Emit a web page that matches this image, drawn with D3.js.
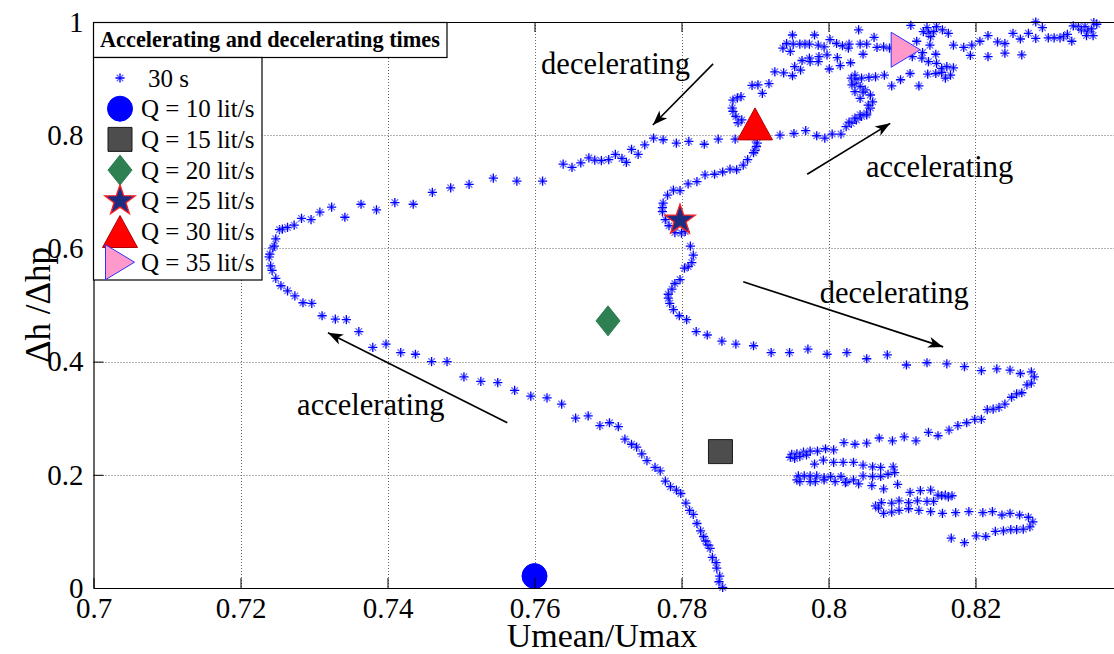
<!DOCTYPE html>
<html><head><meta charset="utf-8">
<script src="https://cdn.jsdelivr.net/npm/d3@7"></script>
<style>body{margin:0;background:#fff}svg{display:block}</style>
</head><body><svg id="c" width="1114" height="654"></svg>
<script>
// ---- data: 30 s time history of Umean/Umax (x) vs Δh/Δhp (y) ----
const traceAccelLow = [[0.7856,0.001],[0.7851,0.011],[0.7852,0.021],[0.7848,0.035],[0.7847,0.045],[0.7842,0.054],[0.7839,0.070],[0.7836,0.076],[0.7833,0.083],[0.7830,0.091],[0.7826,0.101],[0.7821,0.114],[0.7816,0.130],[0.7811,0.137],[0.7806,0.150],[0.7799,0.167],[0.7793,0.173],[0.7785,0.179],[0.7778,0.189],[0.7771,0.207],[0.7764,0.213],[0.7753,0.225],[0.7746,0.237],[0.7739,0.249],[0.7732,0.254],[0.7723,0.263],[0.7714,0.285],[0.7702,0.292],[0.7689,0.287],[0.7673,0.304],[0.7656,0.300],[0.7637,0.325],[0.7617,0.336],[0.7595,0.339],[0.7573,0.349],[0.7550,0.363],[0.7527,0.365],[0.7504,0.373],[0.7481,0.400],[0.7460,0.400],[0.7438,0.413],[0.7418,0.416],[0.7398,0.431],[0.7380,0.425],[0.7361,0.453],[0.7344,0.474],[0.7329,0.475],[0.7311,0.481],[0.7297,0.503],[0.7285,0.504],[0.7274,0.516],[0.7264,0.525],[0.7255,0.534],[0.7248,0.547],[0.7243,0.561],[0.7241,0.569],[0.7239,0.585],[0.7240,0.590],[0.7244,0.601],[0.7246,0.604],[0.7248,0.617],[0.7253,0.633],[0.7257,0.634],[0.7264,0.637],[0.7273,0.641],[0.7283,0.653],[0.7296,0.651],[0.7308,0.664],[0.7324,0.673],[0.7342,0.655],[0.7364,0.678],[0.7385,0.668],[0.7410,0.681],[0.7435,0.678],[0.7461,0.699],[0.7486,0.707],[0.7511,0.713],[0.7544,0.724],[0.7576,0.719],[0.7611,0.719],[0.7639,0.749],[0.7651,0.743],[0.7663,0.751],[0.7674,0.760],[0.7682,0.756],[0.7691,0.755],[0.7701,0.757],[0.7710,0.766],[0.7719,0.759],[0.7725,0.752],[0.7732,0.775],[0.7741,0.766],[0.7750,0.783],[0.7762,0.795],[0.7775,0.792],[0.7793,0.786],[0.7810,0.789],[0.7831,0.784],[0.7850,0.793],[0.7873,0.793]];
const traceAccelHigh = [[0.7934,0.800],[0.7953,0.803],[0.7969,0.808],[0.7984,0.799],[0.7995,0.795],[0.8005,0.802],[0.8017,0.802],[0.8024,0.815],[0.8031,0.821],[0.8038,0.827],[0.8045,0.833],[0.8052,0.839],[0.8057,0.848],[0.8060,0.859],[0.8057,0.871],[0.8050,0.880],[0.8043,0.886],[0.8038,0.898],[0.8035,0.892],[0.8031,0.901],[0.8036,0.906],[0.8045,0.901],[0.8055,0.902],[0.8064,0.903],[0.8076,0.906],[0.8086,0.887],[0.8098,0.898],[0.8111,0.909],[0.8123,0.887],[0.8032,0.889],[0.8036,0.877],[0.8043,0.865],[0.8047,0.876],[0.8054,0.853],[0.8052,0.836],[0.8043,0.836],[0.8036,0.830],[0.8028,0.823]];
const tracePeakLeft = [[0.7870,0.862],[0.7876,0.866],[0.7881,0.868],[0.7869,0.848],[0.7870,0.842],[0.7874,0.833],[0.7877,0.822],[0.7882,0.827],[0.7896,0.888],[0.7904,0.889],[0.7910,0.874],[0.7919,0.891],[0.7927,0.912],[0.7939,0.910],[0.7951,0.905],[0.7954,0.921],[0.7962,0.915],[0.7964,0.932],[0.7974,0.936],[0.7975,0.930],[0.7986,0.930],[0.7987,0.939],[0.7998,0.942],[0.8001,0.917],[0.8012,0.937],[0.8016,0.923],[0.8030,0.928],[0.8047,0.943],[0.7938,0.954],[0.7943,0.962],[0.7948,0.948],[0.7951,0.977],[0.7952,0.961],[0.7961,0.961],[0.7968,0.961],[0.7974,0.961],[0.7981,0.977],[0.7986,0.959],[0.7994,0.956],[0.8002,0.969],[0.8011,0.962],[0.8019,0.958],[0.8027,0.954],[0.8028,0.961],[0.8041,0.986],[0.8043,0.961],[0.8052,0.961],[0.8062,0.973],[0.8066,0.955],[0.8075,0.956],[0.8083,0.954]];
const tracePeakRight = [[0.8112,0.994],[0.8120,0.966],[0.8129,0.983],[0.8134,0.990],[0.8136,0.980],[0.8139,0.974],[0.8143,0.983],[0.8147,0.992],[0.8155,0.986],[0.8163,0.980],[0.8138,0.959],[0.8128,0.946],[0.8127,0.936],[0.8136,0.930],[0.8146,0.943],[0.8147,0.927],[0.8154,0.918],[0.8161,0.921],[0.8170,0.919],[0.8166,0.906],[0.8159,0.901],[0.8154,0.911],[0.8146,0.909],[0.8135,0.908],[0.8114,0.939],[0.8170,0.959],[0.8184,0.955],[0.8195,0.959],[0.8193,0.941],[0.8206,0.966],[0.8217,0.976],[0.8217,0.939],[0.8230,0.965],[0.8240,0.962],[0.8240,0.945],[0.8251,0.980],[0.8263,0.942],[0.8261,0.970],[0.8272,0.980],[0.8282,0.971],[0.8282,1.000],[0.8291,0.990],[0.8299,0.972],[0.8307,0.972],[0.8315,0.972],[0.8320,0.974],[0.8325,0.978],[0.8331,0.966],[0.8333,0.993],[0.8340,0.992],[0.8344,0.986],[0.8349,0.992],[0.8353,0.984],[0.8358,0.988],[0.8361,0.999],[0.8360,0.976],[0.8351,0.976],[0.8365,0.996]];
const traceDecelMid = [[0.7900,0.793],[0.7903,0.786],[0.7902,0.780],[0.7900,0.773],[0.7898,0.769],[0.7890,0.757],[0.7884,0.747],[0.7875,0.739],[0.7866,0.740],[0.7856,0.735],[0.7845,0.731],[0.7832,0.730],[0.7821,0.718],[0.7809,0.714],[0.7798,0.702],[0.7789,0.703],[0.7781,0.694],[0.7775,0.680],[0.7774,0.672],[0.7774,0.665],[0.7778,0.651],[0.7783,0.640],[0.7791,0.628],[0.7800,0.627],[0.7805,0.630],[0.7812,0.604],[0.7816,0.588],[0.7814,0.575],[0.7809,0.568],[0.7804,0.565],[0.7798,0.545],[0.7791,0.538],[0.7787,0.528],[0.7782,0.519],[0.7782,0.512],[0.7784,0.503],[0.7789,0.492],[0.7797,0.481],[0.7807,0.474]];
const traceDecelLow = [[0.7820,0.453],[0.7835,0.447],[0.7855,0.436],[0.7874,0.431],[0.7898,0.428],[0.7922,0.416],[0.7947,0.416],[0.7972,0.422],[0.7998,0.413],[0.8025,0.416],[0.8052,0.405],[0.8080,0.412],[0.8106,0.394],[0.8134,0.398],[0.8161,0.396],[0.8185,0.391],[0.8208,0.384],[0.8229,0.387],[0.8247,0.385],[0.8261,0.379],[0.8276,0.382],[0.8280,0.373],[0.8276,0.362],[0.8270,0.359],[0.8263,0.345],[0.8256,0.343],[0.8249,0.337],[0.8240,0.325],[0.8232,0.319],[0.8224,0.316],[0.8216,0.315],[0.8208,0.298],[0.8199,0.298],[0.8188,0.292],[0.8176,0.287],[0.8164,0.279],[0.8149,0.269],[0.8136,0.275],[0.8119,0.260],[0.8103,0.267],[0.8087,0.260],[0.8069,0.265],[0.8052,0.256],[0.8036,0.254],[0.8021,0.257],[0.8007,0.244],[0.7996,0.246],[0.7985,0.242],[0.7975,0.242],[0.7966,0.240],[0.7957,0.237],[0.7950,0.236],[0.7948,0.231],[0.7954,0.229],[0.7961,0.232],[0.7970,0.235],[0.7981,0.219],[0.7993,0.226],[0.8007,0.222],[0.8020,0.222],[0.8034,0.222],[0.8047,0.217],[0.8060,0.214],[0.8071,0.213],[0.8088,0.214],[0.8090,0.204],[0.8081,0.201],[0.8071,0.197],[0.8060,0.197],[0.8047,0.198],[0.8034,0.191],[0.8025,0.188],[0.8017,0.197],[0.8003,0.197],[0.7994,0.195],[0.7984,0.198],[0.7975,0.198],[0.7967,0.198],[0.7959,0.198],[0.7957,0.191],[0.7961,0.188],[0.7975,0.188],[0.7982,0.188],[0.7994,0.191],[0.8009,0.188],[0.8023,0.186],[0.8041,0.184],[0.8059,0.181],[0.8075,0.175],[0.8094,0.183],[0.8111,0.169],[0.8125,0.172],[0.8139,0.173],[0.8149,0.164],[0.8159,0.164],[0.8168,0.163],[0.8163,0.161],[0.8154,0.163],[0.8143,0.153],[0.8134,0.153],[0.8121,0.154],[0.8109,0.151],[0.8096,0.154],[0.8086,0.150],[0.8072,0.151],[0.8064,0.145],[0.8068,0.141],[0.8075,0.132],[0.8086,0.134],[0.8096,0.137],[0.8109,0.140],[0.8123,0.137],[0.8139,0.135],[0.8155,0.132],[0.8173,0.133],[0.8191,0.135],[0.8210,0.133],[0.8223,0.135],[0.8236,0.129],[0.8247,0.132],[0.8260,0.129],[0.8272,0.125],[0.8278,0.117],[0.8274,0.108],[0.8265,0.104],[0.8256,0.103],[0.8248,0.103],[0.8238,0.101],[0.8227,0.100],[0.8214,0.091],[0.8201,0.092],[0.8185,0.080],[0.8167,0.088]];

const flowLabels = ["Q = 10 lit/s","Q = 15 lit/s","Q = 20 lit/s","Q = 25 lit/s","Q = 30 lit/s","Q = 35 lit/s"];
const flowX = [0.7600, 0.7853, 0.7700, 0.7798, 0.7900, 0.8105];
const flowY = [0.021, 0.241, 0.472, 0.650, 0.820, 0.951];
const seriesLabel = "30 s";
const legendTitle = "Accelerating and decelerating times";
const xTicks = [0.7, 0.72, 0.74, 0.76, 0.78, 0.8, 0.82];
const xTickLabels = ["0.7","0.72","0.74","0.76","0.78","0.8","0.82"];
const yTicks = [0, 0.2, 0.4, 0.6, 0.8, 1];
const yTickLabels = ["0","0.2","0.4","0.6","0.8","1"];
const annotationTexts = ["decelerating","accelerating","decelerating","accelerating"];
const annotationAnchors = [[0.7609,0.908],[0.8051,0.726],[0.7988,0.5035],[0.7277,0.3057]];
const arrowTails = [[0.7843,0.926],[0.7971,0.731],[0.7884,0.541],[0.7563,0.292]];
const arrowHeads = [[0.7761,0.818],[0.8084,0.821],[0.8156,0.426],[0.7319,0.451]];

// ---- drawing ----
const FONT = "'Liberation Serif', 'Times New Roman', serif";
const svg = d3.select("#c");
svg.append("rect").attr("width",1114).attr("height",654).attr("fill","#fff");
const x = d3.scaleLinear().domain([0.7, 0.8389]).range([93.5, 93.5 + 0.1389*7350]);
const y = d3.scaleLinear().domain([0, 1]).range([588, 22]);
const trace = [].concat(traceAccelLow, traceAccelHigh, tracePeakLeft, tracePeakRight, traceDecelMid, traceDecelLow);

// dotted grid
const grid = svg.append("g").attr("stroke","#666").attr("stroke-width",1).attr("stroke-dasharray","1,2");
grid.selectAll("line.gx").data(xTicks.slice(1)).join("line")
  .attr("x1",d=>Math.round(x(d))+0.5).attr("x2",d=>Math.round(x(d))+0.5).attr("y1",y(1)).attr("y2",y(0));
grid.selectAll("line.gy").data(yTicks.slice(1,-1)).join("line")
  .attr("y1",d=>Math.round(y(d))+0.5).attr("y2",d=>Math.round(y(d))+0.5).attr("x1",x(0.7)).attr("x2",1114);

// asterisk markers
const plusPath = "M-4.6,0H4.6M0,-4.6V4.6";
const xPath = "M-3.3,-3.3L3.3,3.3M-3.3,3.3L3.3,-3.3";
function asterisk(g){
  g.append("path").attr("d",xPath).attr("stroke","#6f6fff").attr("stroke-width",1.3).attr("fill","none");
  g.append("path").attr("d",plusPath).attr("stroke","#0000ff").attr("stroke-width",1.3).attr("fill","none");
}
svg.append("g").selectAll("g").data(trace).join("g")
  .attr("transform",d=>`translate(${x(d[0])},${y(d[1])})`)
  .each(function(){ asterisk(d3.select(this)); });

// flow-rate markers
function starPath(R, r){
  const p=[];
  for(let i=0;i<10;i++){const a=-Math.PI/2+i*Math.PI/5; const rr=i%2?r:R; p.push([rr*Math.cos(a), rr*Math.sin(a)]);}
  return "M"+p.map(q=>q[0].toFixed(2)+","+q[1].toFixed(2)).join("L")+"Z";
}
const markerStyles = [
  {d: d3.symbol(d3.symbolCircle, Math.PI*12.5*12.5)(), fill:"#0000ff", stroke:"#0000ff", sw:1},
  {d: "M-12,-12H12V12H-12Z", fill:"#4d4d4d", stroke:"#1a1a1a", sw:1},
  {d: "M0,-15L12,0L0,15L-12,0Z", fill:"#2e8052", stroke:"#2e8052", sw:1},
  {d: starPath(16, 6.3), fill:"#1c2c80", stroke:"#ff2020", sw:1.3},
  {d: "M0,-16L17.5,16L-17.5,16Z", fill:"#ff0000", stroke:"#b00000", sw:1},
  {d: "M-14.5,-17.5L14.5,0L-14.5,17.5Z", fill:"#ff99cc", stroke:"#3030ff", sw:1}
];
svg.append("g").selectAll("path").data(flowX).join("path")
  .attr("transform",(d,i)=>`translate(${x(d)},${y(flowY[i])})`)
  .attr("d",(d,i)=>markerStyles[i].d).attr("fill",(d,i)=>markerStyles[i].fill)
  .attr("stroke",(d,i)=>markerStyles[i].stroke).attr("stroke-width",(d,i)=>markerStyles[i].sw);

// arrows + annotation texts
const defs = svg.append("defs");
defs.append("marker").attr("id","ah").attr("viewBox","-16 -7 17 14").attr("refX",0).attr("refY",0)
  .attr("markerWidth",17).attr("markerHeight",14).attr("markerUnits","userSpaceOnUse").attr("orient","auto")
  .append("path").attr("d","M0,0L-15,-5.5L-11,0L-15,5.5Z").attr("fill","#000");
svg.append("g").selectAll("line").data(arrowTails).join("line")
  .attr("x1",d=>x(d[0])).attr("y1",d=>y(d[1]))
  .attr("x2",(d,i)=>x(arrowHeads[i][0])).attr("y2",(d,i)=>y(arrowHeads[i][1]))
  .attr("stroke","#000").attr("stroke-width",1.6).attr("marker-end","url(#ah)");
svg.append("g").selectAll("text").data(annotationTexts).join("text")
  .attr("x",(d,i)=>x(annotationAnchors[i][0])).attr("y",(d,i)=>y(annotationAnchors[i][1]))
  .attr("font-size",30.5).style("font-family",FONT).attr("fill","#000").text(d=>d);

// axes (box with inward ticks)
const xb = svg.append("g").attr("transform","translate(0,588)")
  .call(d3.axisBottom(x).tickValues(xTicks).tickFormat((d,i)=>xTickLabels[i]).tickSizeInner(-10).tickSizeOuter(0).tickPadding(9));
const xt = svg.append("g").attr("transform","translate(0,22)")
  .call(d3.axisTop(x).tickValues(xTicks).tickFormat("").tickSizeInner(-10).tickSizeOuter(0));
const yl = svg.append("g").attr("transform","translate(93.5,0)")
  .call(d3.axisLeft(y).tickValues(yTicks).tickFormat((d,i)=>yTickLabels[i]).tickSizeInner(-10).tickSizeOuter(0).tickPadding(10));
[xb,xt,yl].forEach(g=>{
  g.selectAll(".domain").attr("stroke","#000").attr("stroke-width",1.2);
  g.selectAll(".tick line").attr("stroke","#000").attr("stroke-width",1);
  g.selectAll(".tick text").attr("font-size",29).style("font-family",FONT).attr("fill","#000");
});

// axis titles
svg.append("text").attr("x",602).attr("y",647).attr("text-anchor","middle").attr("font-size",34).style("font-family",FONT).text("Umean/Umax");
svg.append("text").attr("transform","translate(50,305) rotate(-90)").attr("text-anchor","middle").attr("font-size",35).style("font-family",FONT).text("Δh /Δhp");

// legend
const lg = svg.append("g");
lg.append("rect").attr("x",93.5).attr("y",22.5).attr("width",353.5).attr("height",35).attr("fill","#fff").attr("stroke","#000").attr("stroke-width",1.2);
lg.append("text").attr("x",100).attr("y",47).attr("font-size",22.3).attr("font-weight","bold").style("font-family",FONT).text(legendTitle);
lg.append("rect").attr("x",93.5).attr("y",57.5).attr("width",168.5).attr("height",222.5).attr("fill","#fff").attr("stroke","#000").attr("stroke-width",1.2);
const rowY = i => 78 + i*30.7;
asterisk(lg.append("g").attr("transform",`translate(120,${rowY(0)})`));
lg.append("text").attr("x",148).attr("y",rowY(0)+8.5).attr("font-size",25).style("font-family",FONT).text(seriesLabel);
lg.selectAll("path.lm").data(flowLabels).join("path").attr("class","lm")
  .attr("transform",(d,i)=>`translate(120,${rowY(i+1)})`)
  .attr("d",(d,i)=>markerStyles[i].d).attr("fill",(d,i)=>markerStyles[i].fill)
  .attr("stroke",(d,i)=>markerStyles[i].stroke).attr("stroke-width",(d,i)=>markerStyles[i].sw);
lg.selectAll("text.lt").data(flowLabels).join("text").attr("class","lt")
  .attr("x",141).attr("y",(d,i)=>rowY(i+1)+8.5).attr("font-size",25).style("font-family",FONT).text(d=>d);
</script>
</body></html>
